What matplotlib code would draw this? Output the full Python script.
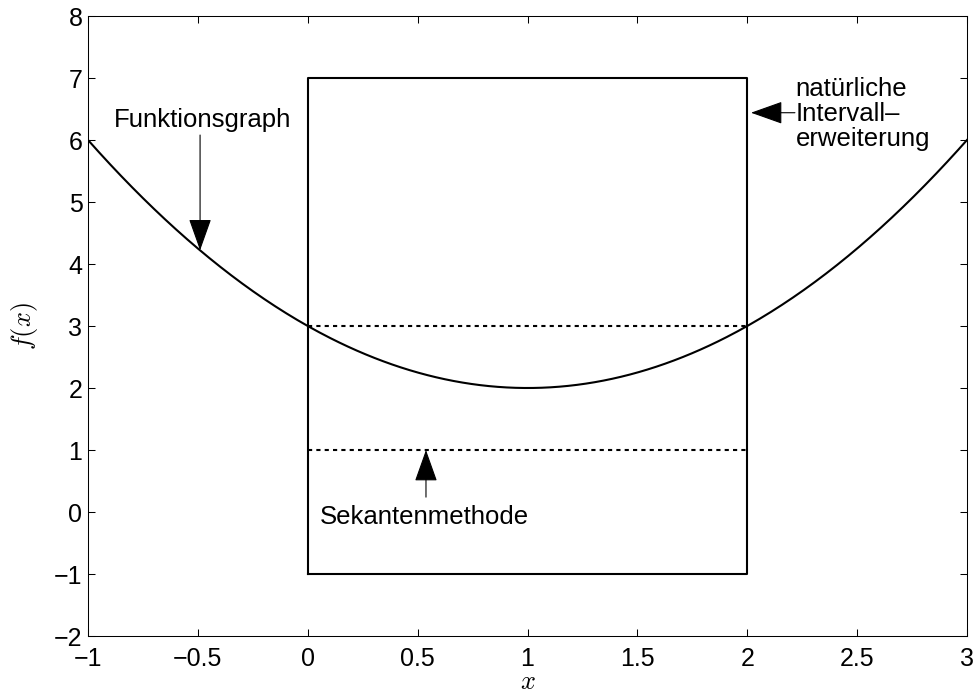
import numpy as np
import matplotlib.pyplot as plt

plt.rcParams['font.family'] = ['Liberation Sans', 'DejaVu Sans']
plt.rcParams['mathtext.fontset'] = 'cm'

# Function and interval data
x_range = [-1, 3]
box_x = [0, 2, 2, 0, 0]
box_y = [-1, -1, 7, 7, -1]
secant_upper = 3
secant_lower = 1
xticks = [-1, -0.5, 0, 0.5, 1, 1.5, 2, 2.5, 3]
yticks = [-2, -1, 0, 1, 2, 3, 4, 5, 6, 7, 8]

x = np.linspace(x_range[0], x_range[1], 400)
f = (x - 1) ** 2 + 2

fig = plt.figure(figsize=(9.77, 6.93), dpi=100)
ax = fig.add_axes([88 / 977, 1 - 636 / 693, 879 / 977, 620 / 693])

ax.plot(x, f, color='black', lw=1.5)
ax.plot(box_x, box_y, color='black', lw=1.5)
ax.plot([0, 2], [secant_upper, secant_upper], color='black', lw=1.5, ls=(0, (2, 2)))
ax.plot([0, 2], [secant_lower, secant_lower], color='black', lw=1.5, ls=(0, (2, 2)))

ax.set_xlim(-1, 3)
ax.set_ylim(-2, 8)
ax.set_xticks(xticks)
ax.set_yticks(yticks)
ax.set_xticklabels(['\u22121', '\u22120.5', '0', '0.5', '1', '1.5', '2', '2.5', '3'])
ax.set_yticklabels(['\u22122', '\u22121', '0', '1', '2', '3', '4', '5', '6', '7', '8'])
ax.tick_params(direction='in', length=5, width=0.75, labelsize=18,
               top=True, right=True)
ax.tick_params(axis='x', pad=8)
ax.tick_params(axis='y', pad=4)
for s in ax.spines.values():
    s.set_linewidth(0.75)

ax.set_xlabel(r'$x$', fontsize=19, labelpad=-0.5)
ax.set_ylabel(r'$f(x)$', fontsize=19, labelpad=10)

arrow = dict(arrowstyle='-|>,head_length=1.35,head_width=0.48', mutation_scale=15,
             color='black', lw=0.8, shrinkA=0, shrinkB=0)

# Funktionsgraph
xp = -0.49
ax.annotate('', xy=(xp, (xp - 1) ** 2 + 2), xytext=(xp, 6.08), arrowprops=arrow)
ax.text(xp + 0.01, 6.32, 'Funktionsgraph', ha='center', va='center', fontsize=18.5)

# natuerliche Intervallerweiterung
ax.annotate('', xy=(2.017, 6.44), xytext=(2.217, 6.44), arrowprops=arrow)
ax.text(2.219, 6.42, 'natürliche\nIntervall\u2013\nerweiterung', ha='left', va='center',
        fontsize=18.5, linespacing=1.05)

# Sekantenmethode
ax.annotate('', xy=(0.538, secant_lower), xytext=(0.538, 0.24), arrowprops=arrow)
ax.text(0.53, -0.08, 'Sekantenmethode', ha='center', va='center', fontsize=18.5)

fig.savefig('out.png', dpi=100)
